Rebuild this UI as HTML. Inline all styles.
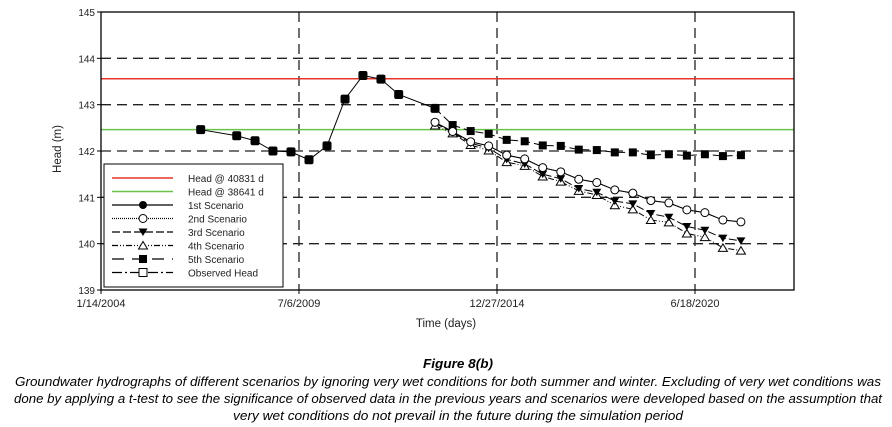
<!DOCTYPE html>
<html><head><meta charset="utf-8"><style>
html,body{margin:0;padding:0;background:#fff;}
svg{display:block;font-family:"Liberation Sans",sans-serif;}
</style></head><body>
<svg id="chart" width="892" height="427" viewBox="0 0 892 427" xmlns="http://www.w3.org/2000/svg">
<g id="grid"></g>
<g id="series"></g>
<g id="axes"></g>
<g id="legend"></g>
<text x="458" y="368" text-anchor="middle" font-size="12.5" font-style="italic" font-weight="bold" textLength="70" lengthAdjust="spacingAndGlyphs">Figure 8(b)</text>
<text x="448" y="386" text-anchor="middle" font-size="12.5" font-style="italic" textLength="866" lengthAdjust="spacingAndGlyphs">Groundwater hydrographs of different scenarios by ignoring very wet conditions for both summer and winter. Excluding of very wet conditions was</text>
<text x="448" y="403" text-anchor="middle" font-size="12.5" font-style="italic" textLength="868" lengthAdjust="spacingAndGlyphs">done by applying a t-test  to see the significance of observed data in the previous years and scenarios were developed based on the assumption that</text>
<text x="458" y="420" text-anchor="middle" font-size="12.5" font-style="italic" textLength="450" lengthAdjust="spacingAndGlyphs">very wet conditions do not prevail in the future during the simulation period</text>
</svg>
<script>
const xTicks = [0, 2000, 4000, 6000];
const xTickLabels = ["1/14/2004", "7/6/2009", "12/27/2014", "6/18/2020"];
const yTicks = [139, 140, 141, 142, 143, 144, 145];
const refRed = 143.56;
const refGreen = 142.46;
const obsDays = [1007, 1371, 1556, 1737, 1919, 2101, 2283, 2465, 2646, 2828, 3007, 3374];
const obsHead = [142.46, 142.33, 142.22, 142.0, 141.98, 141.81, 142.11, 143.12, 143.63, 143.55, 143.22, 142.92];
const simDays = [3374, 3552, 3734, 3916, 4098, 4280, 4462, 4644, 4826, 5008, 5190, 5372, 5554, 5736, 5918, 6100, 6282, 6464];
const s1 = [142.62, 142.42, 142.20, 142.11, 141.91, 141.83, 141.64, 141.55, 141.39, 141.32, 141.16, 141.09, 140.93, 140.88, 140.73, 140.67, 140.51, 140.47];
const s2 = [142.62, 142.42, 142.20, 142.11, 141.91, 141.83, 141.64, 141.55, 141.39, 141.32, 141.16, 141.09, 140.93, 140.88, 140.73, 140.67, 140.51, 140.47];
const s3 = [142.60, 142.40, 142.17, 142.06, 141.82, 141.72, 141.50, 141.40, 141.19, 141.11, 140.92, 140.86, 140.65, 140.57, 140.37, 140.29, 140.12, 140.06];
const s4 = [142.55, 142.38, 142.13, 142.01, 141.76, 141.68, 141.45, 141.34, 141.14, 141.05, 140.83, 140.74, 140.51, 140.46, 140.22, 140.14, 139.91, 139.85];
const s5 = [142.92, 142.56, 142.43, 142.37, 142.24, 142.21, 142.12, 142.11, 142.03, 142.02, 141.97, 141.97, 141.91, 141.93, 141.90, 141.93, 141.89, 141.91];

const L=101,R=794,T=12,B=290, X0=0,X1=7000,Y0=139,Y1=145;
const NS="http://www.w3.org/2000/svg";
function sx(d){return L+(d-X0)/(X1-X0)*(R-L);}
function sy(v){return B-(v-Y0)/(Y1-Y0)*(B-T);}
function mk(tag,attrs,parent){const e=document.createElementNS(NS,tag);for(const k in attrs)e.setAttribute(k,attrs[k]);parent.appendChild(e);return e;}
const grid=document.getElementById('grid'),series=document.getElementById('series'),axes=document.getElementById('axes'),legend=document.getElementById('legend');

yTicks.forEach(v=>{
  if(v>Y0&&v<Y1){const g=mk('line',{x1:L,x2:R,y1:sy(v),y2:sy(v),stroke:'#222','stroke-width':1.3,'stroke-dasharray':'10,6'},grid);
  
  }
  const t=mk('text',{x:L-6,y:sy(v)+4,'text-anchor':'end','font-size':10,fill:'#222'},axes);t.textContent=v;
  
  
  const tk=mk('line',{x1:L-4,x2:L,y1:sy(v),y2:sy(v),stroke:'#000'},axes);
  
  
});
xTicks.forEach((d,i)=>{
  if(d>X0){const g=mk('line',{x1:sx(d),x2:sx(d),y1:T,y2:B,stroke:'#222','stroke-width':1.3,'stroke-dasharray':'10,6'},grid);
  
  }
  const tk=mk('line',{x1:sx(d),x2:sx(d),y1:B,y2:B+4,stroke:'#000'},axes);
  
  
  const t=mk('text',{x:sx(d),y:B+17,'text-anchor':'middle','font-size':11,fill:'#222'},axes);t.textContent=xTickLabels[i];
  
  
});
const frame=mk('rect',{x:L,y:T,width:R-L,height:B-T,fill:'none',stroke:'#000','stroke-width':1.3},axes);


const yt=mk('text',{x:0,y:0,transform:`translate(61,${(T+B)/2-2}) rotate(-90)`,'text-anchor':'middle','font-size':11.5,fill:'#222'},axes);yt.textContent='Head (m)';


const xt=mk('text',{x:446,y:327,'text-anchor':'middle','font-size':11.5,fill:'#222'},axes);xt.textContent='Time (days)';



const rl=mk('line',{x1:L,x2:R,y1:sy(refRed),y2:sy(refRed),stroke:'#e8352a','stroke-width':1.5},series);


const gl=mk('line',{x1:L,x2:R,y1:sy(refGreen),y2:sy(refGreen),stroke:'#6cc24a','stroke-width':1.5},series);



function marker(type,x,y,parent){
  let e;
  if(type==='fc')e=mk('circle',{cx:x,cy:y,r:4,fill:'#000'},parent);
  else if(type==='oc')e=mk('circle',{cx:x,cy:y,r:4,fill:'#fff',stroke:'#000'},parent);
  else if(type==='dt')e=mk('path',{d:`M${x-4.5},${y-3.5}L${x+4.5},${y-3.5}L${x},${y+4}Z`,fill:'#000'},parent);
  else if(type==='ut')e=mk('path',{d:`M${x-4.5},${y+3.5}L${x+4.5},${y+3.5}L${x},${y-4}Z`,fill:'#fff',stroke:'#000'},parent);
  else if(type==='fs')e=mk('rect',{x:x-4,y:y-4,width:8,height:8,fill:'#000'},parent);
  else if(type==='rs')e=mk('rect',{x:x-4.5,y:y-4.5,width:9,height:9,rx:2,fill:'#000'},parent);
  else e=mk('rect',{x:x-4,y:y-4,width:8,height:8,fill:'#fff',stroke:'#000'},parent);
  return e;
}
function drawSeries(days,vals,dash,mtype,name){
  const g=mk('g',{},series);
  
  
  const pts=days.map((d,i)=>sx(d)+','+sy(vals[i])).join(' ');
  mk('polyline',{points:pts,fill:'none',stroke:'#000','stroke-width':1,'stroke-dasharray':dash},g);
  days.forEach((d,i)=>{const m=marker(mtype,sx(d),sy(vals[i]),g);
    
    });
}
drawSeries(simDays,s5,'8,4','fs','5th-scenario');
drawSeries(simDays,s4,'6,2,1,2,1,2','ut','4th-scenario');
drawSeries(simDays,s3,'8,3','dt','3rd-scenario');
drawSeries(simDays,s1,'none','fc','1st-scenario');
drawSeries(simDays,s2,'1,1','oc','2nd-scenario');
drawSeries(obsDays,obsHead,'none','rs','observed-head');

// legend
const lb=mk('rect',{x:104,y:164,width:179,height:123,fill:'#fff',stroke:'#000','stroke-width':1},legend);


const entries=[['Head @ 40831 d','#e8352a','none',null],['Head @ 38641 d','#6cc24a','none',null],['1st Scenario','#000','none','fc'],['2nd Scenario','#000','1,1','oc'],['3rd Scenario','#000','8,3','dt'],['4th Scenario','#000','6,2,1,2,1,2','ut'],['5th Scenario','#000','12,8','fs'],['Observed Head','#000','10,3,2,3','os']];
entries.forEach((e,i)=>{
  const y=178+i*13.5;
  const g=mk('g',{},legend);
  
  
  mk('line',{x1:112,x2:173,y1:y,y2:y,stroke:e[1],'stroke-width':e[3]?1.2:1.5,'stroke-dasharray':e[2]},g);
  if(e[3])marker(e[3],143,y,g);
  const t=mk('text',{x:188,y:y+4,'font-size':10,fill:'#222'},g);t.textContent=e[0];
});
</script>
</body></html>
